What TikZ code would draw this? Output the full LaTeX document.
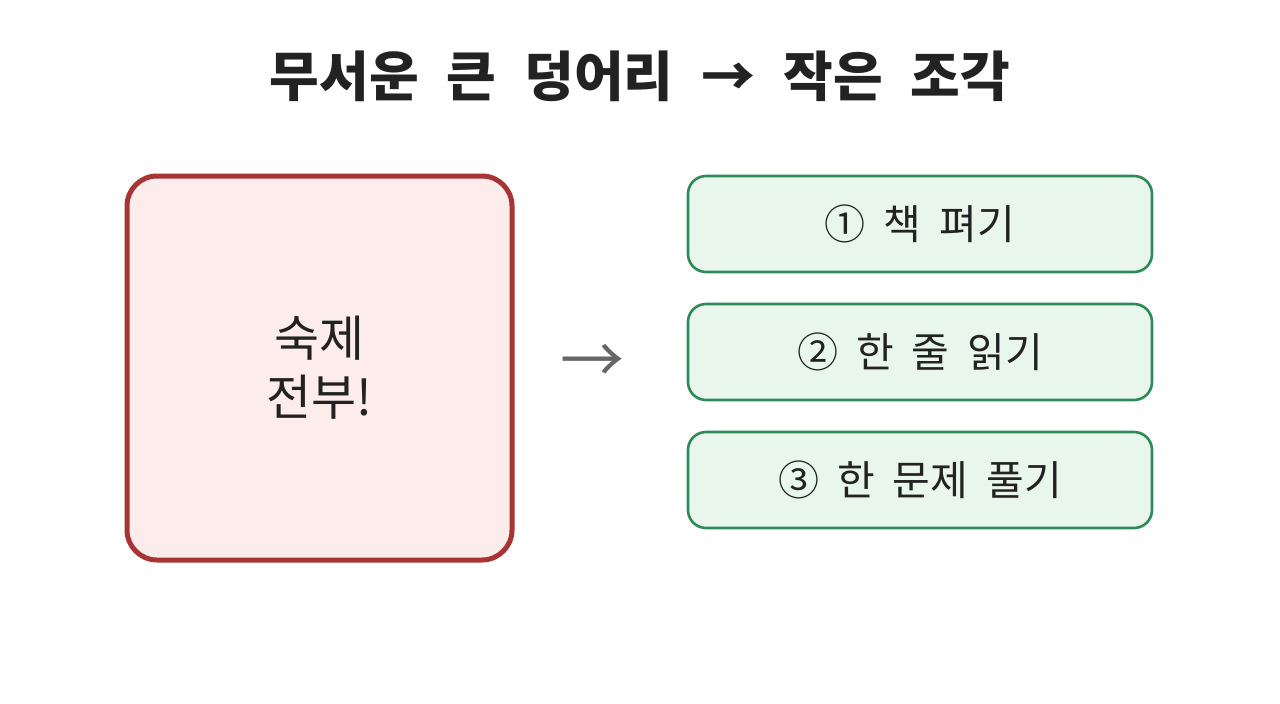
\documentclass[tikz,border=0pt]{standalone}
\usepackage{fontspec}
\setmainfont{Noto Sans CJK KR}
\definecolor{bigfill}{HTML}{FDECEC}
\definecolor{bigdraw}{HTML}{A83434}
\definecolor{smallfill}{HTML}{E9F6EC}
\definecolor{smalldraw}{HTML}{2F8A5A}
\definecolor{txt}{HTML}{222222}
\definecolor{arrowgray}{HTML}{666666}
\newcommand\myTitleFont{\fontsize{54}{60}\selectfont\bfseries\spaceskip 28pt\relax}
\newcommand\myStepFont{\fontsize{41}{48}\selectfont\spaceskip 18pt\relax}
\tikzset{
  bigbox/.style={draw=bigdraw, fill=bigfill, line width=5pt, rounded corners=30pt, minimum width=385pt, minimum height=384pt, inner sep=0pt, align=center, text=txt, font=\fontsize{49}{59}\selectfont},
  stepbox/.style={draw=smalldraw, fill=smallfill, line width=2.6pt, rounded corners=18pt, minimum width=464pt, minimum height=96pt, inner sep=0pt, text=txt, font=\myStepFont},
}
\begin{document}
\begin{tikzpicture}[x=1pt,y=-1pt]
\useasboundingbox (0,0) rectangle (1280,704);
\node[text=txt, font=\myTitleFont] (title) at (640,76) {무서운 큰 덩어리 → 작은 조각};
\node[bigbox] (big) at (319.5,368) {숙제\\전부!};
\node[text=arrowgray, font=\fontsize{64}{64}\selectfont] (arr) at (592,364) {→};
\node[stepbox] (s1) at (920,224) {① 책 펴기};
\node[stepbox] (s2) at (920,352) {② 한 줄 읽기};
\node[stepbox] (s3) at (920,480) {③ 한 문제 풀기};
\end{tikzpicture}
\end{document}
